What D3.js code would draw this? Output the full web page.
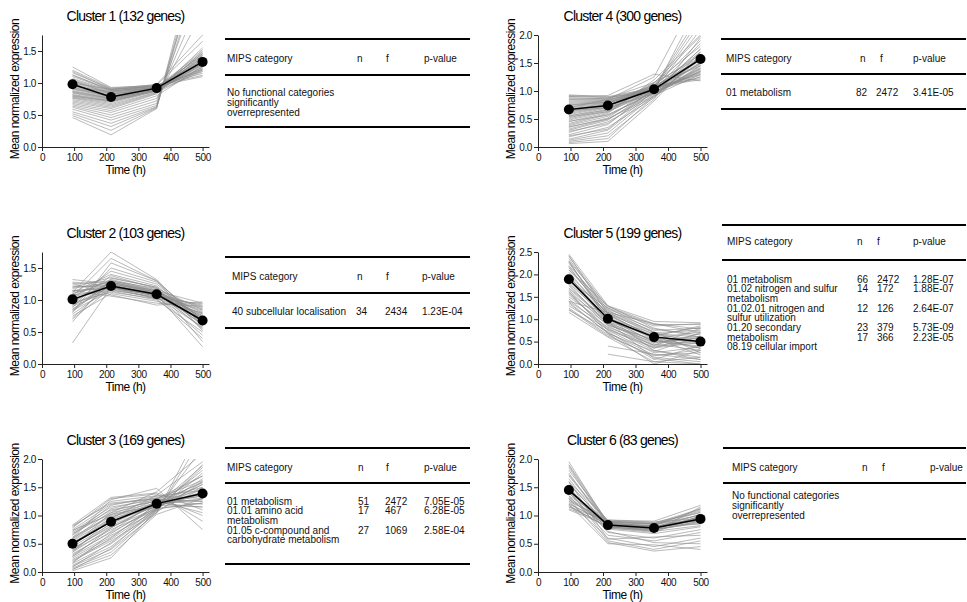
<!DOCTYPE html>
<html>
<head>
<meta charset="utf-8">
<script src="https://cdn.jsdelivr.net/npm/d3@7"></script>
<style>
  body { margin: 0; background: #fff; }
  svg { font-family: "Liberation Sans", Arial, Helvetica, sans-serif; }
</style>
</head>
<body>
<script>
// sampling times (h)
const times = [95, 215, 357, 500];

const clusterIds = [1, 2, 3, 4, 5, 6];
const geneCounts = [132, 103, 169, 300, 199, 83];
const yMaxes = [1.75, 1.75, 2, 2, 2.5, 2];
const xTicks = [0, 100, 200, 300, 400, 500];

// cluster means (black line)
const c1Mean = [0.98, 0.78, 0.92, 1.33];
const c2Mean = [1.01, 1.22, 1.09, 0.68];
const c3Mean = [0.50, 0.89, 1.21, 1.39];
const c4Mean = [0.67, 0.74, 1.03, 1.57];
const c5Mean = [1.89, 1.01, 0.60, 0.50];
const c6Mean = [1.45, 0.83, 0.78, 0.94];

// individual gene profiles (grey)
const c1Genes = [
  [1.25,0.93,0.96,1.12],[1.20,0.92,0.97,1.18],[1.16,0.91,0.95,1.10],[1.12,0.90,0.94,1.22],
  [1.10,0.89,0.96,1.15],[1.07,0.88,0.93,1.28],[1.05,0.87,0.95,1.35],[1.03,0.86,0.92,1.20],
  [1.01,0.85,0.94,1.42],[0.99,0.84,0.93,1.30],[0.97,0.83,0.91,1.25],[0.96,0.82,0.94,1.48],
  [0.94,0.81,0.92,1.38],[0.93,0.80,0.90,1.33],[0.91,0.79,0.93,1.44],[0.90,0.78,0.91,1.27],
  [0.88,0.77,0.89,1.52],[0.87,0.76,0.92,1.36],[0.85,0.75,0.90,1.46],[0.84,0.74,0.88,1.31],
  [0.82,0.73,0.91,1.40],[0.81,0.72,0.89,1.24],[0.80,0.71,0.87,1.55],[0.78,0.70,0.90,1.34],
  [0.77,0.68,0.88,1.29],[0.76,0.66,0.86,1.43],[0.74,0.64,0.85,1.21],[0.72,0.62,0.84,1.37],
  [0.70,0.60,0.83,1.50],[0.68,0.57,0.80,1.26],[0.66,0.54,0.76,2.10],[0.64,0.50,0.72,2.40],
  [0.62,0.46,0.68,2.70],[0.59,0.42,0.65,3.00],[0.55,0.37,0.63,2.85],[0.52,0.32,0.62,3.20],
  [0.49,0.26,0.61,3.10],[0.46,0.19,0.60,3.40],[1.00,0.90,0.98,1.75],[0.95,0.86,0.97,1.65],
  [1.13,0.88,0.92,1.32],[1.04,0.83,0.90,1.46],[0.92,0.79,0.91,1.22],[0.86,0.76,0.89,1.40],
  [0.79,0.72,0.88,1.18],[1.18,0.90,0.95,1.30],
];
const c2Genes = [
  [1.32,1.25,1.15,0.75],[1.28,1.22,1.12,0.80],[1.25,1.30,1.18,0.85],[1.22,1.20,1.10,0.90],
  [1.20,1.35,1.20,0.70],[1.18,1.28,1.14,0.95],[1.15,1.18,1.08,0.78],[1.12,1.40,1.22,0.65],
  [1.10,1.25,1.12,0.88],[1.08,1.15,1.05,0.72],[1.06,1.32,1.16,0.60],[1.04,1.22,1.10,0.82],
  [1.02,1.45,1.25,0.68],[1.00,1.20,1.06,0.92],[0.98,1.28,1.12,0.55],[0.96,1.12,1.02,0.76],
  [0.94,1.38,1.18,0.64],[0.92,1.24,1.08,0.86],[0.90,1.16,1.04,0.58],[0.88,1.50,1.28,0.70],
  [0.86,1.22,1.10,0.74],[0.84,1.14,1.00,0.50],[0.82,1.30,1.14,0.62],[0.80,1.58,1.30,0.66],
  [0.78,1.20,1.06,0.45],[0.75,1.10,0.98,0.80],[0.72,1.26,1.12,0.56],[0.70,1.18,1.02,0.40],
  [0.66,1.34,1.20,0.35],[0.33,1.20,1.08,0.27],[1.12,1.75,1.32,0.60],[1.05,1.65,1.30,0.52],
  [1.26,1.08,0.92,0.97],[1.15,1.06,0.95,0.90],[1.20,1.24,1.08,0.84],[1.10,1.30,1.15,0.72],
  [1.00,1.26,1.10,0.62],[0.92,1.20,1.06,0.78],[0.85,1.28,1.12,0.66],[1.14,1.20,1.02,0.94],
];
const c3Genes = [
  [0.83,1.32,1.40,1.10],[0.80,1.25,1.35,1.30],[0.78,1.30,1.38,0.90],[0.75,1.20,1.30,1.50],
  [0.72,1.15,1.28,1.25],[0.70,1.10,1.25,1.70],[0.68,1.05,1.22,1.35],[0.65,1.12,1.32,1.00],
  [0.62,1.00,1.20,1.60],[0.60,0.98,1.18,1.40],[0.58,1.08,1.26,1.20],[0.55,0.95,1.15,1.80],
  [0.52,0.92,1.24,1.45],[0.50,0.88,1.20,1.30],[0.48,0.90,1.16,1.55],[0.45,0.85,1.22,1.15],
  [0.42,0.80,1.12,1.65],[0.40,0.82,1.18,1.38],[0.38,0.75,1.10,2.20],[0.35,0.78,1.20,1.28],
  [0.32,0.70,1.14,1.50],[0.30,0.72,1.26,1.05],[0.28,0.65,1.08,1.90],[0.25,0.62,1.16,1.42],
  [0.22,0.58,1.12,1.22],[0.20,0.55,1.05,2.40],[0.18,0.60,1.20,1.35],[0.15,0.50,1.10,1.75],
  [0.12,0.45,1.08,1.48],[0.10,0.40,1.04,2.60],[0.07,0.35,1.06,1.60],[0.05,0.30,1.02,1.30],
  [0.02,0.25,1.10,1.85],[0.60,1.28,1.48,0.75],[0.45,1.05,1.42,2.10],[0.35,0.95,1.36,1.95],
  [0.82,1.22,1.30,1.62],[0.66,1.18,1.34,1.45],[0.56,1.02,1.30,1.70],[0.47,0.96,1.28,1.25],
  [0.38,0.86,1.24,1.58],[0.27,0.78,1.22,1.40],[0.16,0.68,1.18,1.15],[0.09,0.52,1.14,1.55],
  [0.04,0.42,1.12,1.22],[0.74,1.02,1.18,1.88],
];
const c4Genes = [
  [0.93,0.90,1.05,1.25],[0.90,0.88,1.02,1.40],[0.88,0.86,1.08,1.20],[0.86,0.85,1.00,1.55],
  [0.84,0.84,1.06,1.30],[0.82,0.83,1.04,1.70],[0.80,0.82,1.10,1.45],[0.78,0.81,1.02,1.35],
  [0.76,0.80,1.08,1.90],[0.74,0.79,1.00,1.50],[0.72,0.78,1.05,1.28],[0.70,0.77,1.12,1.65],
  [0.68,0.76,0.98,1.38],[0.66,0.75,1.04,2.20],[0.64,0.74,1.08,1.55],[0.62,0.73,1.02,1.32],
  [0.60,0.72,1.15,1.80],[0.58,0.71,0.96,1.42],[0.55,0.70,1.06,2.40],[0.52,0.68,1.02,1.60],
  [0.50,0.66,1.10,1.22],[0.48,0.64,0.98,1.75],[0.45,0.62,1.04,1.48],[0.42,0.60,1.20,2.00],
  [0.40,0.58,0.95,1.36],[0.38,0.55,1.00,2.60],[0.35,0.52,1.08,1.58],[0.32,0.50,0.92,1.30],
  [0.30,0.48,1.02,1.85],[0.26,0.45,0.90,1.45],[0.22,0.40,1.05,2.30],[0.18,0.35,0.88,1.62],
  [0.14,0.30,0.95,1.40],[0.10,0.20,0.85,1.95],[0.06,0.10,0.82,1.70],[0.90,0.92,1.30,1.18],
  [0.70,0.85,1.25,2.80],[0.92,0.89,0.98,1.35],[0.85,0.87,1.15,1.60],[0.75,0.80,1.00,1.75],
  [0.65,0.70,0.95,1.50],[0.56,0.66,1.00,1.25],[0.46,0.57,0.98,1.68],[0.36,0.50,0.96,1.52],
  [0.28,0.42,0.98,1.34],[0.20,0.32,1.00,2.10],[0.12,0.25,0.92,1.46],[0.08,0.15,0.90,1.58],
  [0.54,0.63,1.14,1.98],
];
const c5Genes = [
  [2.45,1.30,0.80,0.60],[2.40,1.25,0.75,0.80],[2.35,1.20,0.70,0.45],[2.30,1.28,0.90,0.70],
  [2.25,1.15,0.65,0.55],[2.20,1.22,0.85,0.90],[2.15,1.10,0.60,0.35],[2.10,1.18,0.78,0.65],
  [2.05,1.05,0.55,0.50],[2.00,1.12,0.70,0.75],[1.95,1.00,0.50,0.40],[1.90,1.08,0.62,0.85],
  [1.85,0.95,0.45,0.30],[1.80,1.02,0.68,0.60],[1.75,0.90,0.40,0.55],[1.70,0.98,0.58,0.20],
  [1.65,0.85,0.35,0.70],[1.60,0.92,0.52,0.45],[1.55,0.80,0.30,0.10],[1.50,0.88,0.48,0.62],
  [1.45,0.75,0.25,0.38],[1.40,0.82,0.42,0.80],[1.35,0.70,0.20,0.25],[1.30,0.78,0.38,0.52],
  [1.25,0.65,0.15,0.05],[1.20,0.72,0.10,0.42],[1.15,0.60,0.05,0.15],[1.62,0.68,0.00,0.30],
  [2.10,1.30,0.95,0.92],[1.85,1.25,0.88,0.88],[null,0.40,0.22,0.10],[null,0.22,0.05,0.00],
  [1.40,1.15,0.90,0.78],[2.30,0.95,0.12,0.00],[2.42,1.12,0.58,0.72],[2.18,1.02,0.48,0.58],
  [1.98,0.92,0.42,0.68],[1.78,0.86,0.55,0.35],[1.58,0.76,0.36,0.48],[1.38,0.68,0.28,0.62],
  [1.22,0.62,0.18,0.32],[1.92,1.15,0.72,0.25],[2.28,1.05,0.30,0.15],[1.68,0.94,0.64,0.82],
];
const c6Genes = [
  [1.95,0.85,0.80,0.95],[1.90,0.88,0.85,1.10],[1.85,0.82,0.75,0.90],[1.80,0.90,0.88,1.05],
  [1.75,0.80,0.72,1.15],[1.70,0.86,0.82,0.85],[1.65,0.78,0.70,1.00],[1.60,0.92,0.90,1.18],
  [1.55,0.84,0.78,0.92],[1.50,0.76,0.68,0.80],[1.45,0.88,0.84,1.08],[1.40,0.82,0.76,0.98],
  [1.35,0.90,0.86,1.12],[1.30,0.80,0.74,0.88],[1.28,0.86,0.80,1.02],[1.25,0.92,0.88,0.95],
  [1.22,0.84,0.82,1.06],[1.20,0.88,0.86,0.90],[1.18,0.78,0.72,0.82],[1.15,0.90,0.85,1.00],
  [1.12,0.86,0.80,0.94],[1.10,0.82,0.76,0.86],[1.50,0.70,0.60,0.75],[1.35,0.65,0.55,0.70],
  [1.25,0.60,0.45,0.60],[1.45,0.55,0.40,0.55],[1.30,0.52,0.37,0.45],[1.20,0.50,0.48,0.40],
  [1.60,0.58,0.62,0.65],[1.40,0.72,0.52,0.50],[1.88,0.84,0.78,1.02],[1.72,0.88,0.80,0.96],
  [1.58,0.80,0.74,0.90],[1.42,0.86,0.82,1.12],[1.32,0.84,0.78,0.92],[1.16,0.80,0.74,0.98],
];

// MIPS tables, one entry per printed line: [category, n, f, p-value]
const tableHeader = ["MIPS category", "n", "f", "p-value"];
const table1Lines = [["No functional categories"], ["significantly"], ["overrepresented"]];
const table2Lines = [["40 subcellular localisation", "34", "2434", "1.23E-04"]];
const table3Lines = [
  ["01 metabolism", "51", "2472", "7.05E-05"],
  ["01.01 amino acid", "17", "467", "6.28E-05"],
  ["metabolism"],
  ["01.05 c-compound and", "27", "1069", "2.58E-04"],
  ["carbohydrate metabolism"],
];
const table4Lines = [["01 metabolism", "82", "2472", "3.41E-05"]];
const table5Lines = [
  ["01 metabolism", "66", "2472", "1.28E-07"],
  ["01.02 nitrogen and sulfur", "14", "172", "1.88E-07"],
  ["metabolism"],
  ["01.02.01 nitrogen and", "12", "126", "2.64E-07"],
  ["sulfur utilization"],
  ["01.20 secondary", "23", "379", "5.73E-09"],
  ["metabolism", "17", "366", "2.23E-05"],
  ["08.19 cellular import"],
];
const table6Lines = [["No functional categories"], ["significantly"], ["overrepresented"]];

const means = [c1Mean, c2Mean, c3Mean, c4Mean, c5Mean, c6Mean];
const genes = [c1Genes, c2Genes, c3Genes, c4Genes, c5Genes, c6Genes];
const tables = [table1Lines, table2Lines, table3Lines, table4Lines, table5Lines, table6Lines];

// layout
const plotBoxes = [
  { left: 42, right: 209, top: 35, bottom: 147 },
  { left: 42, right: 209, top: 252, bottom: 364 },
  { left: 42, right: 209, top: 459, bottom: 572 },
  { left: 538, right: 707, top: 35, bottom: 147 },
  { left: 538, right: 707, top: 252, bottom: 364 },
  { left: 538, right: 707, top: 459, bottom: 572 },
];
const tableBoxes = [
  { x0: 225, x1: 470, top: 39, head: 58, rule: 75, first: 92, step: 10, bottom: 127,
    head_cols: [227, 357, 386, 424], cols: [227, 357, 386, 424] },
  { x0: 225, x1: 470, top: 257, head: 276, rule: 293, first: 311, step: 10, bottom: 328,
    head_cols: [232, 357, 386, 422], cols: [232, 356, 385, 422] },
  { x0: 225, x1: 470, top: 448, head: 467, rule: 483, first: 501, step: 9.7, bottom: 564,
    head_cols: [227, 358, 386, 424], cols: [227, 358, 385, 424] },
  { x0: 721, x1: 966, top: 39, head: 58, rule: 74, first: 92, step: 10, bottom: 109,
    head_cols: [726, 860, 880, 913], cols: [726, 856, 876, 913] },
  { x0: 722, x1: 966, top: 225, head: 241, rule: 260, first: 279, step: 9.7, bottom: null,
    head_cols: [727, 857, 877, 913], cols: [727, 857, 877, 913] },
  { x0: 723, x1: 966, top: 448, head: 467, rule: 483, first: 495, step: 10, bottom: 539,
    head_cols: [732, 862, 882, 930], cols: [732, 862, 882, 930] },
];

const svg = d3.select("body").append("svg").attr("width", 967).attr("height", 602);

const defs = svg.append("defs");

clusterIds.forEach((id, i) => {
  const box = plotBoxes[i];
  const x = d3.scaleLinear().domain([0, 520]).range([box.left, box.right]);
  const y = d3.scaleLinear().domain([0, yMaxes[i]]).range([box.bottom, box.top]);

  defs.append("clipPath").attr("id", "clip" + id)
    .append("rect")
    .attr("x", box.left).attr("y", box.top)
    .attr("width", box.right - box.left).attr("height", box.bottom - box.top);

  const g = svg.append("g");

  const line = d3.line()
    .defined((d) => d != null)
    .x((d, j) => x(times[j]))
    .y((d) => y(d));

  // grey gene profiles
  g.append("g")
    .attr("clip-path", "url(#clip" + id + ")")
    .selectAll("path")
    .data(genes[i])
    .enter()
    .append("path")
    .attr("d", line)
    .attr("fill", "none")
    .attr("stroke", "#8c8c8c")
    .attr("stroke-opacity", 0.6)
    .attr("stroke-width", 1);

  // axes
  const yAxis = d3.axisLeft(y)
    .tickValues(d3.range(0, yMaxes[i] + 0.001, 0.5))
    .tickFormat(d3.format(".1f"))
    .tickSize(4).tickSizeOuter(0).tickPadding(2);
  const xAxis = d3.axisBottom(x)
    .tickValues(xTicks)
    .tickSize(4).tickSizeOuter(0).tickPadding(3);

  g.append("g").attr("transform", "translate(" + box.left + ",0)").call(yAxis);
  g.append("g").attr("transform", "translate(0," + box.bottom + ")").call(xAxis);
  g.selectAll(".tick text")
    .attr("font-family", null)
    .style("font-size", "10px")
    .style("letter-spacing", "-0.4px")
    .attr("fill", "#111");
  g.selectAll(".domain, .tick line").attr("stroke", "#222");

  // mean profile
  g.append("path")
    .attr("d", line(means[i]))
    .attr("fill", "none")
    .attr("stroke", "#000")
    .attr("stroke-width", 1.5);
  g.selectAll(".dot")
    .data(means[i])
    .enter()
    .append("circle")
    .attr("cx", (d, j) => x(times[j]))
    .attr("cy", (d) => y(d))
    .attr("r", 5)
    .attr("fill", "#000");

  // title and axis labels
  const cx = (box.left + box.right) / 2;
  g.append("text")
    .attr("x", cx)
    .attr("y", box.top - 14)
    .attr("text-anchor", "middle")
    .style("font-size", "14px")
    .style("letter-spacing", "-0.8px")
    .text("Cluster " + id + " (" + geneCounts[i] + " genes)");

  g.append("text")
    .attr("x", cx)
    .attr("y", box.bottom + 27)
    .attr("text-anchor", "middle")
    .style("font-size", "12px")
    .style("letter-spacing", "-0.5px")
    .text("Time (h)");

  g.append("text")
    .attr("transform", "translate(" + (box.left - 23) + "," + ((box.top + box.bottom) / 2 - 2) + ") rotate(-90)")
    .attr("text-anchor", "middle")
    .style("font-size", "12px")
    .style("letter-spacing", "-0.5px")
    .text("Mean normalized expression");

  // MIPS table
  const tb = tableBoxes[i];
  const t = svg.append("g").style("font-size", "10px").attr("fill", "#111");
  const rules = [tb.top, tb.rule];
  if (tb.bottom != null) rules.push(tb.bottom);
  rules.forEach((ry) => {
    t.append("line")
      .attr("x1", tb.x0).attr("x2", tb.x1)
      .attr("y1", ry).attr("y2", ry)
      .attr("stroke", "#000").attr("stroke-width", 2);
  });
  tableHeader.forEach((h, k) => {
    t.append("text").attr("x", tb.head_cols[k]).attr("y", tb.head + 3.5).text(h);
  });
  tables[i].forEach((row, r) => {
    row.forEach((cell, k) => {
      t.append("text")
        .attr("x", tb.cols[k])
        .attr("y", tb.first + r * tb.step + 3.5)
        .text(cell);
    });
  });
});
</script>
</body>
</html>
